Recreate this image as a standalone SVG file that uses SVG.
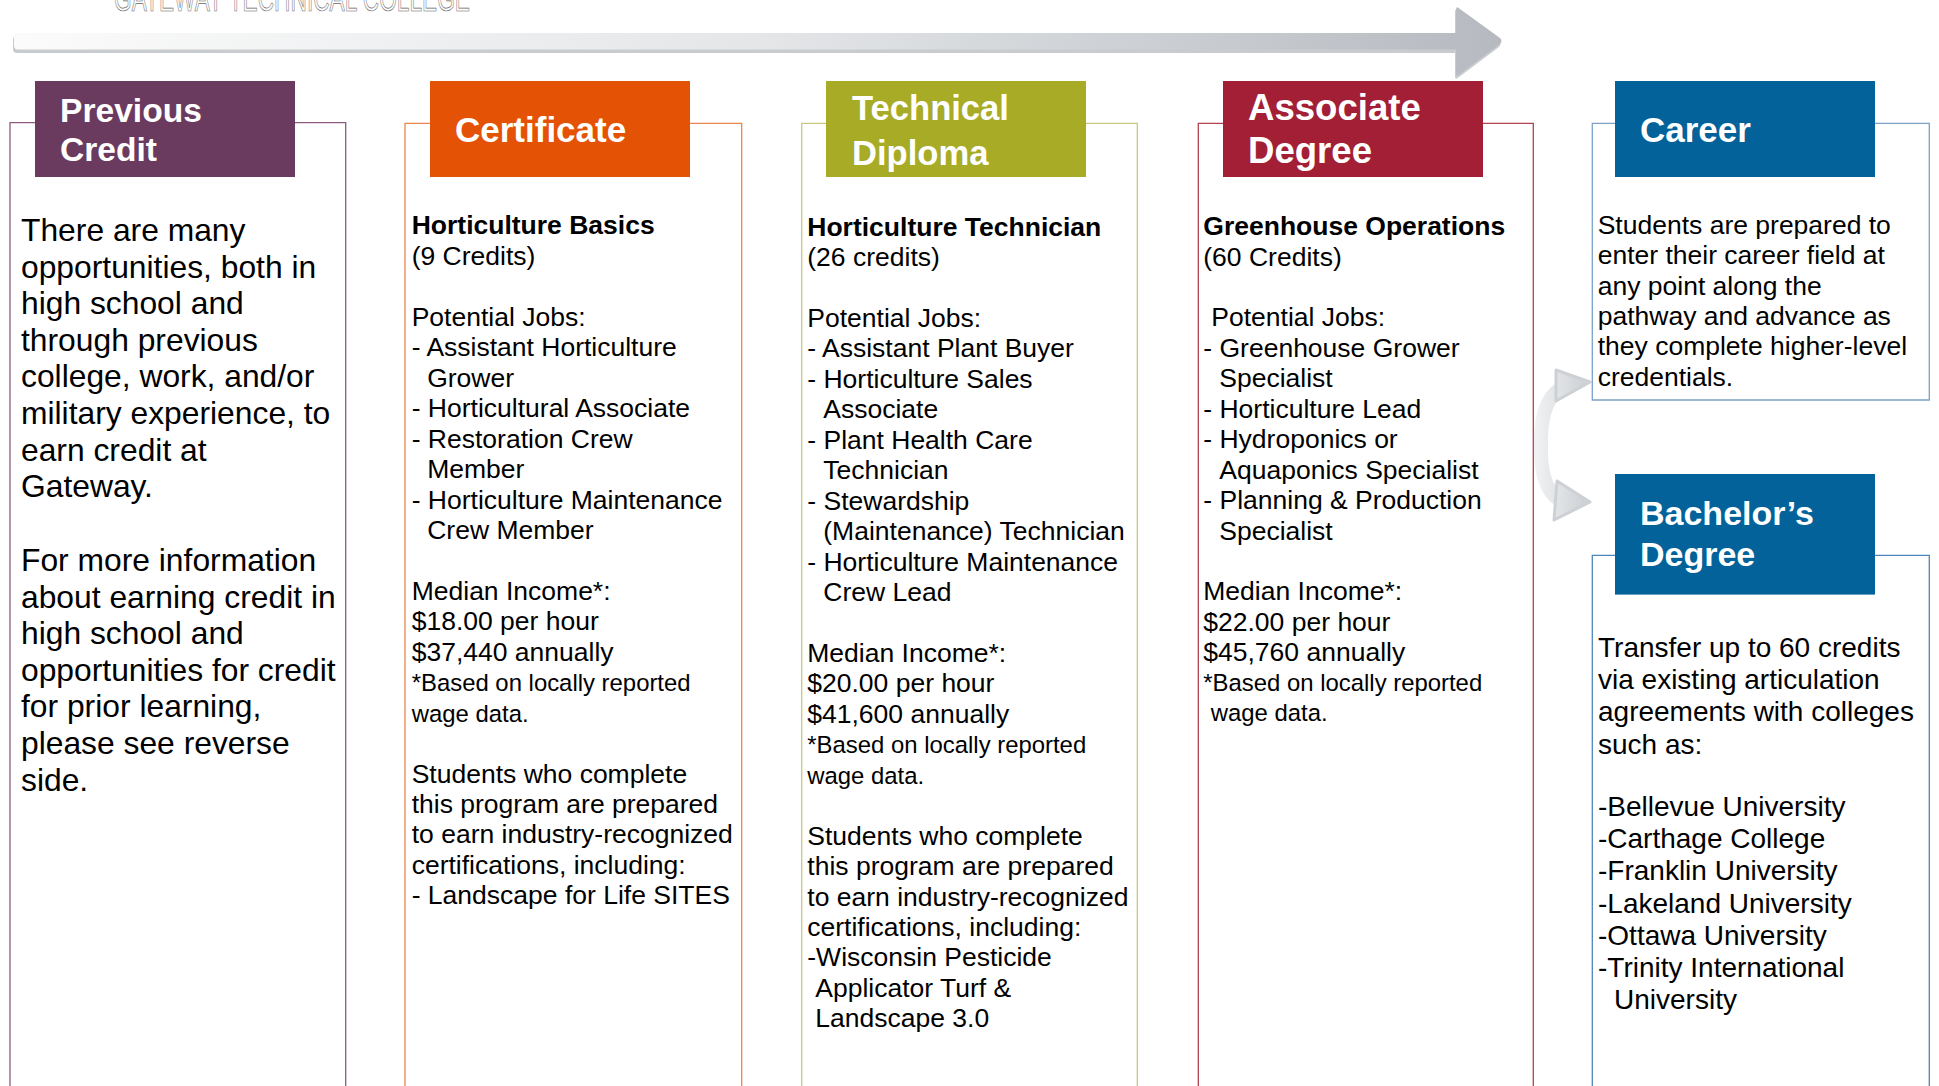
<svg xmlns="http://www.w3.org/2000/svg" width="1939" height="1086" viewBox="0 0 1939 1086">
<style>
.hdr{font-family:"Liberation Sans",Arial,sans-serif;font-weight:bold;fill:#fff}
.t{font-family:"Liberation Sans",Arial,sans-serif;font-size:26.5px;fill:#000}
.t1{font-family:"Liberation Sans",Arial,sans-serif;font-size:31.8px;fill:#000}
.t5{font-family:"Liberation Sans",Arial,sans-serif;font-size:28px;fill:#000}
.note{font-size:23.9px}
.b{font-weight:bold}
.box{fill:none;stroke-width:1.3}
</style>
<defs>
<linearGradient id="gMain" gradientUnits="userSpaceOnUse" x1="13" y1="0" x2="1503" y2="0">
<stop offset="0" stop-color="#fbfbfb"/>
<stop offset="0.5" stop-color="#e4e6e8"/>
<stop offset="1" stop-color="#b6bac0"/>
</linearGradient>
<linearGradient id="gCurve" gradientUnits="userSpaceOnUse" x1="1535" y1="0" x2="1592" y2="0">
<stop offset="0" stop-color="#f1f2f3"/>
<stop offset="1" stop-color="#c9cdd1"/>
</linearGradient>
</defs>

<text x="114" y="11" font-family="'Liberation Sans Narrow','Liberation Sans',Arial,sans-serif" font-size="36" fill="#fff" stroke="#666" stroke-width="0.7" textLength="356" lengthAdjust="spacingAndGlyphs">GATEWAY TECHNICAL COLLEGE</text>

<g id="connectors">
<path d="M18,34 L1456,34 L1456,10 Q1456,5 1460,9 L1500,39 Q1503,42 1500,45 L1460,75 Q1456,79 1456,74 L1456,51 L18,51 Q14,51 14,47 L14,38 Q14,34 18,34 Z" fill="#c9cccf" transform="translate(-1,2)"/>
<path d="M18,33 L1456,33 L1456,10 Q1456,5 1460,9 L1500,38 Q1503,41 1500,44 L1460,74 Q1456,78 1456,73 L1456,49.5 L18,49.5 Q14,49.5 14,45.5 L14,37 Q14,33 18,33 Z" fill="url(#gMain)"/>
<g id="arrow-to-career">
<path d="M1541,452 Q1539,402 1560,389" fill="none" stroke="url(#gCurve)" stroke-width="14"/>
<path d="M1556,370 L1590,382 L1556,401 Z" fill="url(#gCurve)" stroke="#cdd0d4" stroke-width="3" stroke-linejoin="round"/>
</g>
<g id="arrow-to-bachelors">
<path d="M1541,440 Q1539,488 1560,500" fill="none" stroke="url(#gCurve)" stroke-width="14"/>
<path d="M1557,481 L1590,502 L1554,520 Z" fill="url(#gCurve)" stroke="#cdd0d4" stroke-width="3" stroke-linejoin="round"/>
</g>
</g>

<g id="node-previous-credit">
<path class="box" stroke="#8a5c80" d="M10,1090 L10,122.7 L345.7,122.7 L345.7,1090"/>
<rect x="35" y="81" width="260" height="96" fill="#6b3a5f"/>
<text class="hdr" font-size="33.6" x="60" y="121.7">Previous</text>
<text class="hdr" font-size="33.6" x="60" y="161">Credit</text>
<text class="t1" x="21" y="241">There are many</text>
<text class="t1" x="21" y="277.6">opportunities, both in</text>
<text class="t1" x="21" y="314.2">high school and</text>
<text class="t1" x="21" y="350.8">through previous</text>
<text class="t1" x="21" y="387.4">college, work, and/or</text>
<text class="t1" x="21" y="424">military experience, to</text>
<text class="t1" x="21" y="460.6">earn credit at</text>
<text class="t1" x="21" y="497.2">Gateway.</text>
<text class="t1" x="21" y="571">For more information</text>
<text class="t1" x="21" y="607.6">about earning credit in</text>
<text class="t1" x="21" y="644.2">high school and</text>
<text class="t1" x="21" y="680.8">opportunities for credit</text>
<text class="t1" x="21" y="717.4">for prior learning,</text>
<text class="t1" x="21" y="754">please see reverse</text>
<text class="t1" x="21" y="790.6">side.</text>
</g>

<g id="node-certificate">
<path class="box" stroke="#e8864c" d="M405,1090 L405,123.3 L741.7,123.3 L741.7,1090"/>
<rect x="430" y="81" width="260" height="96" fill="#e35205"/>
<text class="hdr" font-size="35" x="455" y="141.7">Certificate</text>
<text class="t b" x="411.7" y="234.4">Horticulture Basics</text>
<text class="t" x="411.7" y="264.9">(9 Credits)</text>
<text class="t" x="411.7" y="325.8">Potential Jobs:</text>
<text class="t" x="411.7" y="356.2">- Assistant Horticulture</text>
<text class="t" x="427.2" y="386.7">Grower</text>
<text class="t" x="411.7" y="417.1">- Horticultural Associate</text>
<text class="t" x="411.7" y="447.6">- Restoration Crew</text>
<text class="t" x="427.2" y="478">Member</text>
<text class="t" x="411.7" y="508.5">- Horticulture Maintenance</text>
<text class="t" x="427.2" y="538.9">Crew Member</text>
<text class="t" x="411.7" y="599.8">Median Income*:</text>
<text class="t" x="411.7" y="630.3">$18.00 per hour</text>
<text class="t" x="411.7" y="660.7">$37,440 annually</text>
<text class="t note" x="411.7" y="691.2">*Based on locally reported</text>
<text class="t note" x="411.7" y="721.6">wage data.</text>
<text class="t" x="411.7" y="782.5">Students who complete</text>
<text class="t" x="411.7" y="813">this program are prepared</text>
<text class="t" x="411.7" y="843.4">to earn industry-recognized</text>
<text class="t" x="411.7" y="873.9">certifications, including:</text>
<text class="t" x="411.7" y="904.3">- Landscape for Life SITES</text>
</g>

<g id="node-technical-diploma">
<path class="box" stroke="#cbc97d" d="M801.7,1090 L801.7,123.3 L1137.3,123.3 L1137.3,1090"/>
<rect x="826" y="81" width="260" height="96" fill="#a8ab26"/>
<text class="hdr" font-size="34.6" x="852" y="120">Technical</text>
<text class="hdr" font-size="34.6" x="852" y="165">Diploma</text>
<text class="t b" x="807.3" y="235.6">Horticulture Technician</text>
<text class="t" x="807.3" y="266.1">(26 credits)</text>
<text class="t" x="807.3" y="327">Potential Jobs:</text>
<text class="t" x="807.3" y="357.4">- Assistant Plant Buyer</text>
<text class="t" x="807.3" y="387.9">- Horticulture Sales</text>
<text class="t" x="823.3" y="418.3">Associate</text>
<text class="t" x="807.3" y="448.8">- Plant Health Care</text>
<text class="t" x="823.3" y="479.2">Technician</text>
<text class="t" x="807.3" y="509.7">- Stewardship</text>
<text class="t" x="823.3" y="540.1">(Maintenance) Technician</text>
<text class="t" x="807.3" y="570.6">- Horticulture Maintenance</text>
<text class="t" x="823.3" y="601">Crew Lead</text>
<text class="t" x="807.3" y="661.9">Median Income*:</text>
<text class="t" x="807.3" y="692.4">$20.00 per hour</text>
<text class="t" x="807.3" y="722.8">$41,600 annually</text>
<text class="t note" x="807.3" y="753.3">*Based on locally reported</text>
<text class="t note" x="807.3" y="783.7">wage data.</text>
<text class="t" x="807.3" y="844.6">Students who complete</text>
<text class="t" x="807.3" y="875.1">this program are prepared</text>
<text class="t" x="807.3" y="905.5">to earn industry-recognized</text>
<text class="t" x="807.3" y="936">certifications, including:</text>
<text class="t" x="807.3" y="966.4">-Wisconsin Pesticide</text>
<text class="t" x="815.3" y="996.9">Applicator Turf &amp;</text>
<text class="t" x="815.3" y="1027.3">Landscape 3.0</text>
</g>

<g id="node-associate-degree">
<path class="box" stroke="#b3424f" d="M1198.3,1090 L1198.3,123.3 L1533.3,123.3 L1533.3,1090"/>
<rect x="1223" y="81" width="260" height="96" fill="#a21f36"/>
<text class="hdr" font-size="36.6" x="1248" y="120">Associate</text>
<text class="hdr" font-size="36.6" x="1248" y="163">Degree</text>
<text class="t b" x="1203.3" y="235">Greenhouse Operations</text>
<text class="t" x="1203.3" y="265.5">(60 Credits)</text>
<text class="t" x="1211.3" y="326.4">Potential Jobs:</text>
<text class="t" x="1203.3" y="356.8">- Greenhouse Grower</text>
<text class="t" x="1219.3" y="387.3">Specialist</text>
<text class="t" x="1203.3" y="417.7">- Horticulture Lead</text>
<text class="t" x="1203.3" y="448.2">- Hydroponics or</text>
<text class="t" x="1219.3" y="478.6">Aquaponics Specialist</text>
<text class="t" x="1203.3" y="509.1">- Planning &amp; Production</text>
<text class="t" x="1219.3" y="539.5">Specialist</text>
<text class="t" x="1203.3" y="600.4">Median Income*:</text>
<text class="t" x="1203.3" y="630.9">$22.00 per hour</text>
<text class="t" x="1203.3" y="661.3">$45,760 annually</text>
<text class="t note" x="1203.3" y="690.8">*Based on locally reported</text>
<text class="t note" x="1210.8" y="720.6">wage data.</text>
</g>

<g id="node-career">
<path class="box" stroke="#7ba1c9" d="M1592.3,123.3 L1929.3,123.3 L1929.3,400 L1592.3,400 Z"/>
<rect x="1615" y="81" width="260" height="96" fill="#026299"/>
<text class="hdr" font-size="35" x="1640" y="142">Career</text>
<text class="t" x="1597.7" y="234">Students are prepared to</text>
<text class="t" x="1597.7" y="264.3">enter their career field at</text>
<text class="t" x="1597.7" y="294.6">any point along the</text>
<text class="t" x="1597.7" y="324.9">pathway and advance as</text>
<text class="t" x="1597.7" y="355.2">they complete higher-level</text>
<text class="t" x="1597.7" y="385.5">credentials.</text>
</g>

<g id="node-bachelors-degree">
<path class="box" stroke="#4d86bd" d="M1592.3,1090 L1592.3,555.4 L1929.3,555.4 L1929.3,1090"/>
<rect x="1615" y="474" width="260" height="120.6" fill="#026299"/>
<text class="hdr" font-size="34" x="1640" y="525">Bachelor’s</text>
<text class="hdr" font-size="34" x="1640" y="566">Degree</text>
<text class="t5" x="1598" y="657">Transfer up to 60 credits</text>
<text class="t5" x="1598" y="689.2">via existing articulation</text>
<text class="t5" x="1598" y="721.4">agreements with colleges</text>
<text class="t5" x="1598" y="753.6">such as:</text>
<text class="t5" x="1598" y="816">-Bellevue University</text>
<text class="t5" x="1598" y="848.2">-Carthage College</text>
<text class="t5" x="1598" y="880.4">-Franklin University</text>
<text class="t5" x="1598" y="912.6">-Lakeland University</text>
<text class="t5" x="1598" y="944.8">-Ottawa University</text>
<text class="t5" x="1598" y="977">-Trinity International</text>
<text class="t5" x="1614" y="1009.2">University</text>
</g>
</svg>
